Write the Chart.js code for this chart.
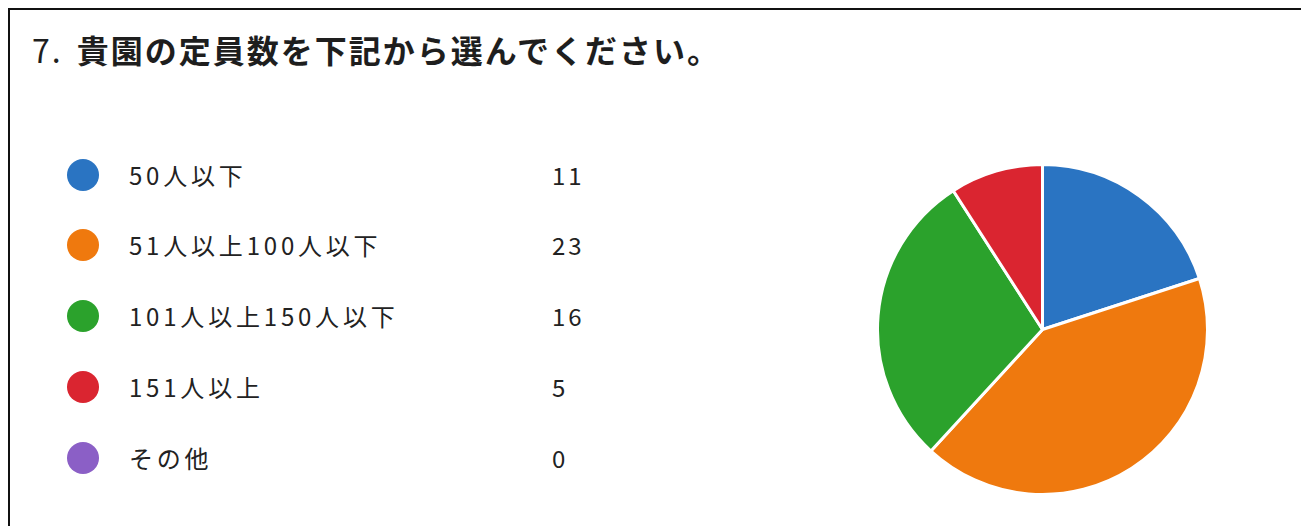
<!DOCTYPE html>
<html>
<head>
<meta charset="utf-8">
<script src="https://cdn.jsdelivr.net/npm/chart.js@4.4.0/dist/chart.umd.min.js"></script>
<style>
  body { margin: 0; background: #fff; width: 1301px; height: 526px; overflow: hidden; }
  #frame {
    position: absolute; left: 8px; top: 8px; width: 1293px; height: 518px;
    border-left: 2px solid #111; border-top: 2px solid #111;
    font-family: "Noto Sans CJK JP", "Noto Sans", sans-serif; color: #222;
  }
  #title { position: absolute; left: 22px; top: 16px; font-size: 32px; font-weight: bold; letter-spacing: 2px; white-space: nowrap; color: #1e1e1e; }
  #title .num { margin-right: 14px; font-weight: normal; }
  .row { position: absolute; left: 0; height: 34px; font-size: 24px; letter-spacing: 3.8px; white-space: nowrap; }
  .dot { position: absolute; left: 57px; top: 1px; width: 32px; height: 32px; border-radius: 50%; }
  .lbl { position: absolute; left: 119px; top: -1px; }
  .val { position: absolute; left: 542px; top: -1px; letter-spacing: 3px; }
  #pieBox { position: absolute; left: 866px; top: 153px; width: 333px; height: 333px; }
</style>
</head>
<body>
<div id="frame">
  <div id="title"><span class="num">7.</span>貴園の定員数を下記から選んでください。</div>
  <div id="legend"></div>
  <div id="pieBox"><canvas id="capacity-pie"></canvas></div>
</div>
<script>
// 定員数の回答
var labels = ['50人以下', '51人以上100人以下', '101人以上150人以下', '151人以上', 'その他'];
var counts = [11, 23, 16, 5, 0];
var colors = ['#2a74c2', '#ef790e', '#2ba22c', '#da2530', '#8b5fc6'];

// legend rows on the left
var legend = document.getElementById('legend');
labels.forEach(function (name, i) {
    var row = document.createElement('div');
    row.className = 'row';
    row.style.top = (147.5 + i * 70.8) + 'px';
    row.innerHTML = '<span class="dot" style="background:' + colors[i] + '"></span>' +
        '<span class="lbl">' + name + '</span>' +
        '<span class="val">' + counts[i] + '</span>';
    legend.appendChild(row);
});

var pieCanvas = document.getElementById('capacity-pie');
new Chart(pieCanvas, {
    type: 'pie',
    data: {
        labels: labels,
        datasets: [{
            data: counts,
            backgroundColor: colors,
            borderColor: '#ffffff',
            borderWidth: 3
        }]
    },
    options: {
        responsive: true,
        maintainAspectRatio: false,
        animation: false,
        layout: { padding: 0 },
        plugins: {
            legend: { display: false },
            tooltip: { enabled: false }
        }
    }
});
</script>
</body>
</html>
